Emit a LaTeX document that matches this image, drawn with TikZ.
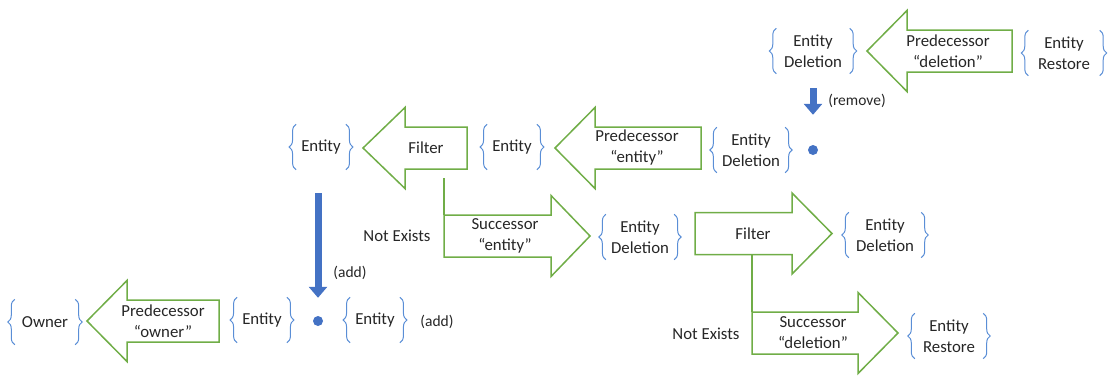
\documentclass[tikz,border=0pt]{standalone}
\usepackage{fontspec}
\setmainfont{Carlito}
\usetikzlibrary{decorations.pathreplacing,calc,arrows.meta}
\definecolor{ggreen}{HTML}{70AD47}
\definecolor{bblue}{HTML}{4472C4}
\definecolor{lblue}{HTML}{5A8ED6}
\definecolor{tgray}{HTML}{262626}
\tikzset{
  mainfont/.style={font=\fontsize{16.8}{21}\selectfont, text=tgray},
  smallfont/.style={font=\fontsize{15.5}{19}\selectfont, text=tgray},
  gshape/.style={draw=ggreen, line width=1.5pt, line join=miter},
  gline/.style={draw=ggreen, line width=1.5pt},
  gtext/.style={mainfont, align=center, inner sep=0pt},
  setnode/.style={mainfont, align=center, inner xsep=5pt, inner ysep=0pt, minimum height=45pt},
  curly/.style={draw=lblue, line width=1pt, decorate, decoration={brace, amplitude=7pt}},
  barrow/.style={draw=bblue, line width=7pt, -{Triangle[width=18pt,length=11pt]}},
  bdot/.style={circle, fill=bblue, minimum size=10pt, inner sep=0pt},
  lbl/.style={smallfont, inner sep=0pt},
  lblbig/.style={mainfont, inner sep=0pt}
}
% left-pointing block arrow: name, tip x, head base x, right x, centre y, text x, text
\newcommand\leftblock[7]{%
  \draw[gshape] (#2,#5) -- (#3,#5-40.5) -- (#3,#5-21) -- (#4,#5-21) -- (#4,#5+21)
     -- (#3,#5+21) -- (#3,#5+40.5) -- cycle;
  \coordinate (#1-nw) at (#3,#5-21); \coordinate (#1-ne) at (#4,#5-21);
  \coordinate (#1-sw) at (#3,#5+21); \coordinate (#1-se) at (#4,#5+21);
  \node[gtext] (#1) at (#6,#5) {#7};}
% right-pointing block arrow: name, tail x, head base x, tip x, centre y, text x, text
\newcommand\rightblock[7]{%
  \draw[gshape] (#2,#5-21) -- (#3,#5-21) -- (#3,#5-40.5) -- (#4,#5) -- (#3,#5+40.5)
     -- (#3,#5+21) -- (#2,#5+21) -- cycle;
  \coordinate (#1-nw) at (#2,#5-21); \coordinate (#1-ne) at (#3,#5-21);
  \coordinate (#1-sw) at (#2,#5+21); \coordinate (#1-se) at (#3,#5+21);
  \node[gtext] (#1) at (#6,#5) {#7};}
\begin{document}
\begin{tikzpicture}[x=1pt,y=-1pt]
\useasboundingbox (0,0) rectangle (1111,376);

% block arrows
\leftblock{predDel}{867}{907}{1012}{51}{948}{Predecessor\\“deletion”}
\leftblock{filt1}{363}{405}{467}{148}{426}{Filter}
\leftblock{predEnt}{555}{595}{701}{148}{637}{Predecessor\\“entity”}
\leftblock{predOwn}{87}{127}{219}{321}{163}{Predecessor\\“owner”}
\rightblock{succEnt}{444}{551}{590}{236}{505}{Successor\\“entity”}
\rightblock{filt2}{695}{792}{832}{233.5}{753}{Filter}
\rightblock{succDel}{752}{858}{898}{333}{813}{Successor\\“deletion”}

% branch connectors
\draw[gline] ($(succEnt-nw |- filt1-sw)+(0,9)$) -- (succEnt-nw);
\draw[gline] (succDel-nw |- filt2-sw) -- (succDel-nw);

% sets
\node[setnode, minimum width=73pt] (S1) at (813,51) {Entity\\Deletion};
\node[setnode, minimum width=71pt] (S2) at (1064,53) {Entity\\Restore};
\node[setnode] (S3) at (321,147) {Entity};
\node[setnode] (S4) at (512,147) {Entity};
\node[setnode] (S5) at (751,150) {Entity\\Deletion};
\node[setnode] (S6) at (640,237) {Entity\\Deletion};
\node[setnode, minimum width=72pt] (S7) at (885,235) {Entity\\Deletion};
\node[setnode, minimum width=68pt] (S8) at (949,336) {Entity\\Restore};
\node[setnode, minimum width=60pt] (S9) at (45,322) {Owner};
\node[setnode] (S10) at (262,320) {Entity};
\node[setnode] (S11) at (375,320) {Entity};
\foreach \n in {S1,S2,S3,S4,S5,S6,S7,S8,S9,S10,S11}{
  \draw[curly] (\n.south west) -- (\n.north west);
  \draw[curly] (\n.north east) -- (\n.south east);
}

% dots
\node[bdot] (dot1) at (813,150) {};
\node[bdot] (dot2) at (318,321) {};

% blue arrows
\draw[barrow, shorten <=14.5pt, shorten >=30pt] (S1.south) -- (dot1.north);
\draw[barrow, shorten <=23.5pt, shorten >=18pt] (S3.south -| dot2.north) -- (dot2.north);

% labels
\node[lbl] (lremove) at (857,101) {(remove)};
\node[lbl] (ladd1) at (350,273) {(add)};
\node[lbl] (ladd2) at (437,322) {(add)};
\node[lblbig] (nex1) at (397,236) {Not Exists};
\node[lblbig] (nex2) at (706,334) {Not Exists};
\end{tikzpicture}
\end{document}
